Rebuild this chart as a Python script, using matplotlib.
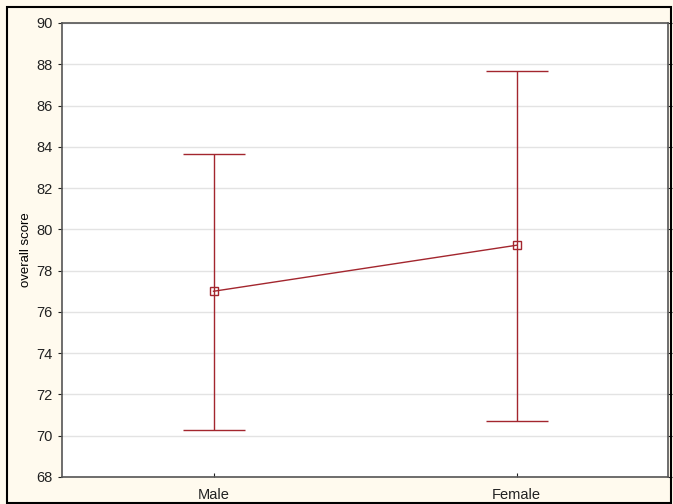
import matplotlib
matplotlib.use("Agg")
import matplotlib.pyplot as plt
from matplotlib.patches import Rectangle

categories = ["Male", "Female"]
means = [77.0, 79.23]
upper = [83.67, 87.67]
lower = [70.3, 70.72]

plt.rcParams['font.family'] = ['Liberation Sans', 'DejaVu Sans']

fig = plt.figure(figsize=(6.73, 5.04), dpi=100)
fig.patch.set_facecolor('#FFFAEE')
fig.patches.append(Rectangle((7/673, 1/504), 664/673, 496/504, transform=fig.transFigure,
                             fill=False, edgecolor='black', linewidth=1.5, zorder=10))

W, H = 673, 504
ax = fig.add_axes([62/W, 1-477/H, (668-62)/W, (477-23)/H])
ax.set_facecolor('white')
color = '#A3262E'
x = list(range(len(categories)))
yerr = [[m - l for m, l in zip(means, lower)], [u - m for u, m in zip(upper, means)]]
ax.errorbar(x, means, yerr=yerr, color=color, linewidth=1, elinewidth=1, capsize=22.5,
            capthick=1, marker='s', markersize=6, markerfacecolor='none',
            markeredgecolor=color, markeredgewidth=1, zorder=3)

ax.set_xlim(-0.5, 1.5)
ax.set_ylim(68, 90)
ax.set_yticks(range(68, 91, 2))
ax.set_xticks(x)
ax.set_xticklabels(categories)
ax.yaxis.grid(True, color='#E3E3E3', linewidth=1)
ax.set_axisbelow(True)
ax.tick_params(axis='both', labelsize=10.5, colors='#222222', length=3)
ax.tick_params(axis='y', right=True, direction='out')
ax.tick_params(axis='x', direction='in', pad=8)
ax.set_ylabel('overall score', fontsize=9.5, labelpad=3)
for s in ax.spines.values():
    s.set_color('#555555')
    s.set_linewidth(1.2)

fig.savefig('out.png', dpi=100, facecolor=fig.get_facecolor())
